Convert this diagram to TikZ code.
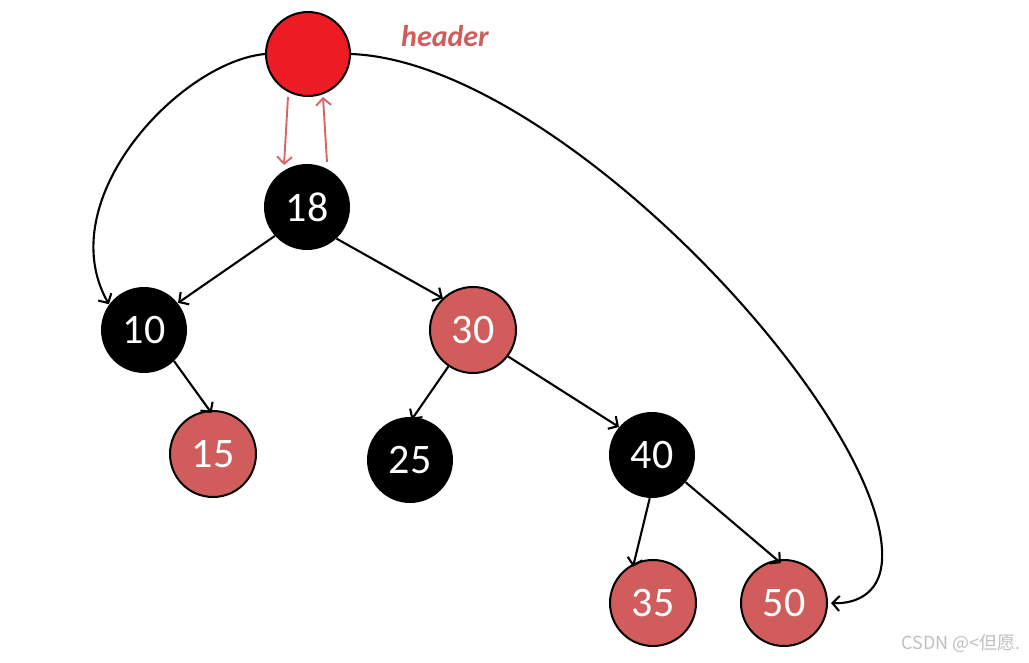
\documentclass[tikz,border=0pt]{standalone}
\usepackage{fontspec}
\setmainfont{Carlito}
\newfontfamily\cjkfont{Noto Sans CJK SC}
\usetikzlibrary{arrows.meta}
\definecolor{hred}{HTML}{ED1C24}
\definecolor{nred}{HTML}{D15C5C}
\definecolor{lred}{HTML}{D86464}
\begin{document}
\begin{tikzpicture}[x=1pt,y=-1pt,
  rb/.style={circle,minimum size=86pt,inner sep=0pt,text=white,font=\fontsize{42}{42}\selectfont},
  blk/.style={rb,fill=black},
  redn/.style={rb,fill=nred,draw=black,line width=2pt},
  edge/.style={-{Straight Barb[length=7pt,width=15pt]},line width=2.1pt},
  hedge/.style={-{Straight Barb[length=7pt,width=15pt]},line width=1.9pt,draw=lred}]
\useasboundingbox (0,0) rectangle (1029,663);
\node[redn,fill=hred,minimum size=84pt] (h) at (308,54) {};
\node[font=\fontsize{30}{30}\selectfont\bfseries\itshape,text=nred] (ht) at (445,36) {header};
\node[blk] (n18) at (307,207) {18};
\node[blk] (n10) at (144,330) {10};
\node[redn] (n30) at (473,330) {30};
\node[redn] (n15) at (213,454) {15};
\node[blk] (n25) at (410,460) {25};
\node[blk] (n40) at (652,455) {40};
\node[redn] (n35) at (653,603) {35};
\node[redn] (n50) at (784,603) {50};
\node[font=\cjkfont\fontsize{18}{18}\selectfont,text=black!25,anchor=east] (wm) at (1024,644) {CSDN @<但愿.};
\coordinate (a1) at (288,97);
\coordinate (a2) at (284,165);
\coordinate (b1) at (327,162);
\coordinate (b2) at (323,97);
\draw[hedge] (a1) -- (a2);
\draw[hedge] (b1) -- (b2);
\draw[edge] (n18.222) -- ([shift={(4pt,-4pt)}]n10.46);
\draw[edge] (n18.-47) -- ([shift={(-3pt,-3pt)}]n30.128);
\draw[edge] (n10.-46) -- ([shift={(0,-3pt)}]n15.92);
\draw[edge] (n30.-124) -- ([shift={(0,-3pt)}]n25.88);
\draw[edge] (n30.-37) -- ([shift={(-2pt,-2pt)}]n40.136);
\draw[edge] (n40.-93) -- ([shift={(0,-3pt)}]n35.117);
\draw[edge] (n40.-39) -- ([shift={(0,-4pt)}]n50.94);
\coordinate (c1) at (882,560);
\draw[edge] (h.west) .. controls (180,62) and (50,200) .. ([shift={(-2pt,-2pt)}]n10.140);
\draw[line width=2.1pt] (h.east) .. controls (560,62) and (890,420) .. (c1);
\draw[edge] (c1) .. controls (880,598) and (850,604) .. ([xshift=3pt]n50.east);
\end{tikzpicture}
\end{document}
